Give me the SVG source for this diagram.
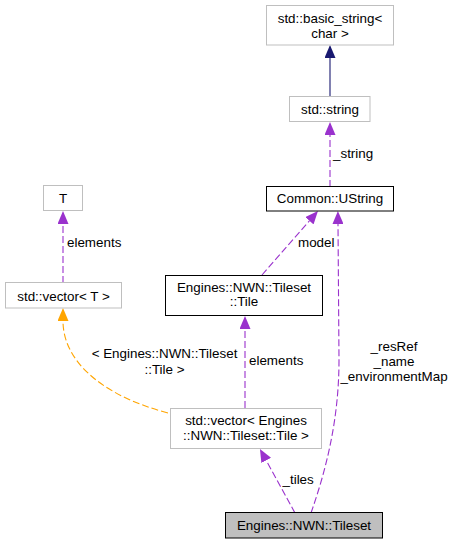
<svg xmlns="http://www.w3.org/2000/svg" width="451" height="544" viewBox="0 0 451 544">
<style>
text { font-family: "Liberation Sans", Arial, sans-serif; font-size: 13.4px; fill: #000; }
.c { text-anchor: middle; }
.n { fill: #fff; stroke: #bfbfbf; stroke-width: 1; }
.b { fill: #fff; stroke: #000; stroke-width: 1; }
.s { fill: #bfbfbf; stroke: #000; stroke-width: 1; }
.e { fill: none; stroke-width: 1.1; }
.p { stroke: #9a32cd; stroke-dasharray: 7,3; marker-end: url(#ap); }
.o { stroke: #ffa500; stroke-dasharray: 7,3; marker-end: url(#ao); }
.m { stroke: #191970; marker-end: url(#am); }
</style>
<defs>
<marker id="ap" viewBox="0 0 13 11" refX="0" refY="5.5" markerWidth="13" markerHeight="11" markerUnits="userSpaceOnUse" orient="auto"><path d="M0,0 L13,5.5 L0,11 z" fill="#9a32cd"/></marker>
<marker id="ao" viewBox="0 0 13 11" refX="0" refY="5.5" markerWidth="13" markerHeight="11" markerUnits="userSpaceOnUse" orient="auto"><path d="M0,0 L13,5.5 L0,11 z" fill="#ffa500"/></marker>
<marker id="am" viewBox="0 0 13 11" refX="0" refY="5.5" markerWidth="13" markerHeight="11" markerUnits="userSpaceOnUse" orient="auto"><path d="M0,0 L13,5.5 L0,11 z" fill="#191970"/></marker>
</defs>
<g id="connectors">
<path class="e m" d="M330,97 L330,58"/>
<path class="e p" d="M330,187 L330,135"/>
<text x="333" y="158">_string</text>
<path class="e p" d="M63,283 L63,224"/>
<text x="67" y="246.5">elements</text>
<path class="e p" d="M262,275 L309.4,220.8"/>
<text x="298" y="247">model</text>
<path class="e p" d="M311,513 C326,470 339,420 339,360 L338,224"/>
<text class="c" x="394" y="350.5">_resRef</text>
<text class="c" x="394" y="365.5">_name</text>
<text class="c" x="394" y="380.5">_environmentMap</text>
<path class="e p" d="M245,408 L245,329"/>
<text x="249" y="365">elements</text>
<path class="e p" d="M295,513 L266.2,460.4"/>
<text x="282.5" y="483.5">_tiles</text>
<path class="e o" d="M168,413 C100,395 63,360 63,321"/>
<text class="c" x="164.5" y="358">&lt; Engines::NWN::Tileset</text>
<text class="c" x="164.5" y="373.5">::Tile &gt;</text>
</g>
<g id="node-basic-string">
<rect class="n" x="266.5" y="5.5" width="127" height="39.5"/>
<text class="c" x="330" y="23">std::basic_string&lt;</text>
<text class="c" x="330" y="37.5">char &gt;</text>
</g>
<g id="node-std-string">
<rect class="n" x="289.5" y="96.5" width="80.5" height="25"/>
<text class="c" x="330" y="113.5">std::string</text>
</g>
<g id="node-ustring">
<rect class="b" x="266.5" y="186.5" width="127" height="24.5"/>
<text class="c" x="330" y="203">Common::UString</text>
</g>
<g id="node-T">
<rect class="n" x="43.5" y="185.5" width="39" height="25"/>
<text class="c" x="63" y="202.5">T</text>
</g>
<g id="node-vector-T">
<rect class="n" x="5.5" y="282.5" width="116" height="25.5"/>
<text class="c" x="63.5" y="300.5">std::vector&lt; T &gt;</text>
</g>
<g id="node-tile">
<rect class="b" x="165.5" y="275.5" width="157" height="40"/>
<text class="c" x="244" y="292">Engines::NWN::Tileset</text>
<text class="c" x="244" y="306">::Tile</text>
</g>
<g id="node-vector-tile">
<rect class="n" x="170.5" y="408.5" width="151" height="40"/>
<text class="c" x="246" y="424.5">std::vector&lt; Engines</text>
<text class="c" x="246" y="439.5">::NWN::Tileset::Tile &gt;</text>
</g>
<g id="node-tileset">
<rect class="s" x="225.5" y="512.5" width="157" height="25.5"/>
<text class="c" x="304" y="529.5">Engines::NWN::Tileset</text>
</g>
</svg>
